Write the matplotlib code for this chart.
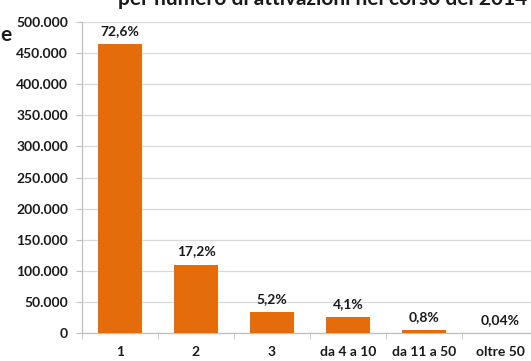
import matplotlib
matplotlib.use("Agg")
import matplotlib.pyplot as plt
from matplotlib.ticker import FuncFormatter

# Data
categories = ["1", "2", "3", "da 4 a 10", "da 11 a 50", "oltre 50"]
values = [464600, 110100, 33300, 26200, 5100, 260]
labels = ["72,6%", "17,2%", "5,2%", "4,1%", "0,8%", "0,04%"]
y_ticks = [0, 50000, 100000, 150000, 200000, 250000, 300000, 350000, 400000, 450000, 500000]
title = "per numero di attivazioni nel corso del 2014"

orange = "#E46C0A"
grid = "#D9D9D9"
text_col = "#1a1a1a"

plt.rcParams["font.family"] = ["Lato", "DejaVu Sans"]

W, H = 531, 361
fig = plt.figure(figsize=(W / 100, H / 100), dpi=100, facecolor="white")
# plot area: y axis at x=82, 0 at y=333, 500.000 at y=22, category pitch 76px
ax = fig.add_axes([82 / W, (H - 333) / H, 456 / W, 311 / H])

x = list(range(len(categories)))
bars = ax.bar(x, values, width=0.58, color=orange, zorder=3)

for b, lab in zip(bars, labels):
    ax.annotate(lab, (b.get_x() + b.get_width() / 2, b.get_height()),
                xytext=(0, 5), textcoords="offset points",
                ha="center", va="bottom", fontsize=10, fontweight="bold", color=text_col)

ax.set_xlim(-0.5, len(categories) - 0.5)
ax.set_ylim(0, 500000)
ax.set_yticks(y_ticks)
ax.yaxis.set_major_formatter(FuncFormatter(lambda v, p: f"{int(v):,}".replace(",", ".")))
ax.set_xticks(x)
ax.set_xticklabels(categories)
ax.set_xticks([i - 0.5 for i in range(len(categories) + 1)], minor=True)

ax.grid(axis="y", color=grid, linewidth=0.9, zorder=0)
for s in ["top", "right"]:
    ax.spines[s].set_visible(False)
for s in ["left", "bottom"]:
    ax.spines[s].set_color("#BFBFBF")
    ax.spines[s].set_linewidth(0.9)

ax.tick_params(axis="y", length=4, color="#BFBFBF", labelsize=10, pad=6, labelcolor=text_col)
ax.tick_params(axis="x", which="major", length=0, labelsize=10, pad=9, labelcolor=text_col)
ax.tick_params(axis="x", which="minor", length=4, color="#BFBFBF")
for t in ax.get_xticklabels() + ax.get_yticklabels():
    t.set_fontweight("bold")

fig.text(527 / W, 1 - 5 / H, title, fontsize=15, fontweight="bold",
         color=text_col, ha="right", va="baseline")
fig.text(0 / W, 1 - 41 / H, "e", fontsize=15, fontweight="bold",
         color=text_col, ha="left", va="baseline")

fig.savefig("out.png", dpi=100, facecolor="white")
